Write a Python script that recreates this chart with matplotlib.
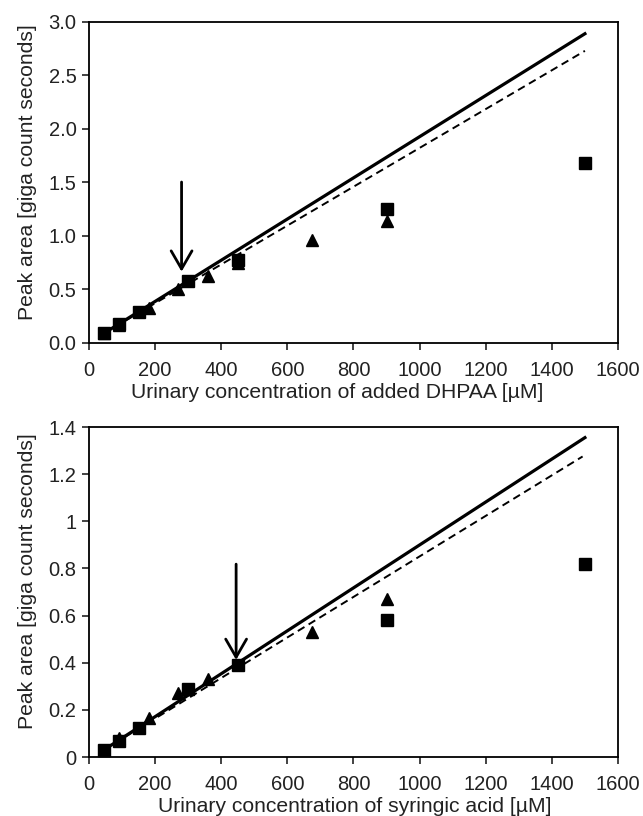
import numpy as np
import matplotlib.pyplot as plt

plt.rcParams['font.family'] = ['Liberation Sans', 'DejaVu Sans']

# DHPAA panel
dhpaa_sq_x = [45, 90, 150, 300, 450, 900, 1500]
dhpaa_sq_y = [0.09, 0.18, 0.29, 0.58, 0.78, 1.25, 1.68]
dhpaa_tri_x = [45, 90, 180, 270, 360, 450, 675, 900]
dhpaa_tri_y = [0.09, 0.17, 0.33, 0.50, 0.63, 0.75, 0.96, 1.14]
dhpaa_solid = ([45, 1500], [0.09, 2.89])
dhpaa_dash = ([45, 1500], [0.09, 2.73])
dhpaa_arrow = (280, 1.53, 0.64)

# syringic acid panel
syr_sq_x = [45, 90, 150, 300, 450, 900, 1500]
syr_sq_y = [0.03, 0.07, 0.125, 0.29, 0.39, 0.58, 0.82]
syr_tri_x = [45, 90, 180, 270, 360, 675, 900]
syr_tri_y = [0.03, 0.08, 0.165, 0.27, 0.33, 0.53, 0.67]
syr_solid = ([45, 1500], [0.03, 1.355])
syr_dash = ([45, 1493], [0.03, 1.275])
syr_arrow = (445, 0.83, 0.40)

fig = plt.figure(figsize=(6.43, 8.16), dpi=100)
ax1 = fig.add_axes([0.1384, 0.5797, 0.8227, 0.3934])
ax2 = fig.add_axes([0.1384, 0.0723, 0.8227, 0.4044])


def draw(ax, sqx, sqy, trx, tr_y, solid, dash, arrow, ymax, yticks, ylabels,
         xlabel, xlab_pos):
    ax.plot(solid[0], solid[1], color='black', lw=2.3, zorder=2)
    ax.plot(dash[0], dash[1], color='black', lw=1.4, ls=(0, (4, 2.5)), zorder=2)
    ax.plot(trx, tr_y, ls='none', marker='^', color='black', ms=8, zorder=3)
    ax.plot(sqx, sqy, ls='none', marker='s', color='black', ms=8.5, zorder=4)
    ax.annotate('', xy=(arrow[0], arrow[2]), xytext=(arrow[0], arrow[1]),
                arrowprops=dict(arrowstyle='->,head_length=1.3,head_width=0.75',
                                color='black', lw=2))
    ax.set_xlim(0, 1600)
    ax.set_ylim(0, ymax)
    ax.set_xticks(np.arange(0, 1601, 200))
    ax.set_yticks(yticks)
    ax.set_yticklabels(ylabels)
    ax.tick_params(labelsize=14.5, direction='out', length=5, width=1.2, colors='#222222')
    ax.tick_params(axis='x', pad=8)
    ax.tick_params(axis='y', pad=4)
    for s in ax.spines.values():
        s.set_linewidth(1.3)
    ax.set_xlabel(xlabel, fontsize=15.2, color='#222222')
    ax.set_ylabel('Peak area [giga count seconds]', fontsize=15.2, color='#222222')
    ax.xaxis.set_label_coords(xlab_pos[0], xlab_pos[1])
    ax.yaxis.set_label_coords(-0.098, 0.533)


draw(ax1, dhpaa_sq_x, dhpaa_sq_y, dhpaa_tri_x, dhpaa_tri_y, dhpaa_solid, dhpaa_dash,
     dhpaa_arrow, 3.0, [0, 0.5, 1.0, 1.5, 2.0, 2.5, 3.0],
     ['0.0', '0.5', '1.0', '1.5', '2.0', '2.5', '3.0'],
     'Urinary concentration of added DHPAA [µM]', (0.469, -0.124))
draw(ax2, syr_sq_x, syr_sq_y, syr_tri_x, syr_tri_y, syr_solid, syr_dash,
     syr_arrow, 1.4, [0, 0.2, 0.4, 0.6, 0.8, 1.0, 1.2, 1.4],
     ['0', '0.2', '0.4', '0.6', '0.8', '1', '1.2', '1.4'],
     'Urinary concentration of syringic acid [µM]', (0.503, -0.122))

fig.savefig('out.png', dpi=100)
